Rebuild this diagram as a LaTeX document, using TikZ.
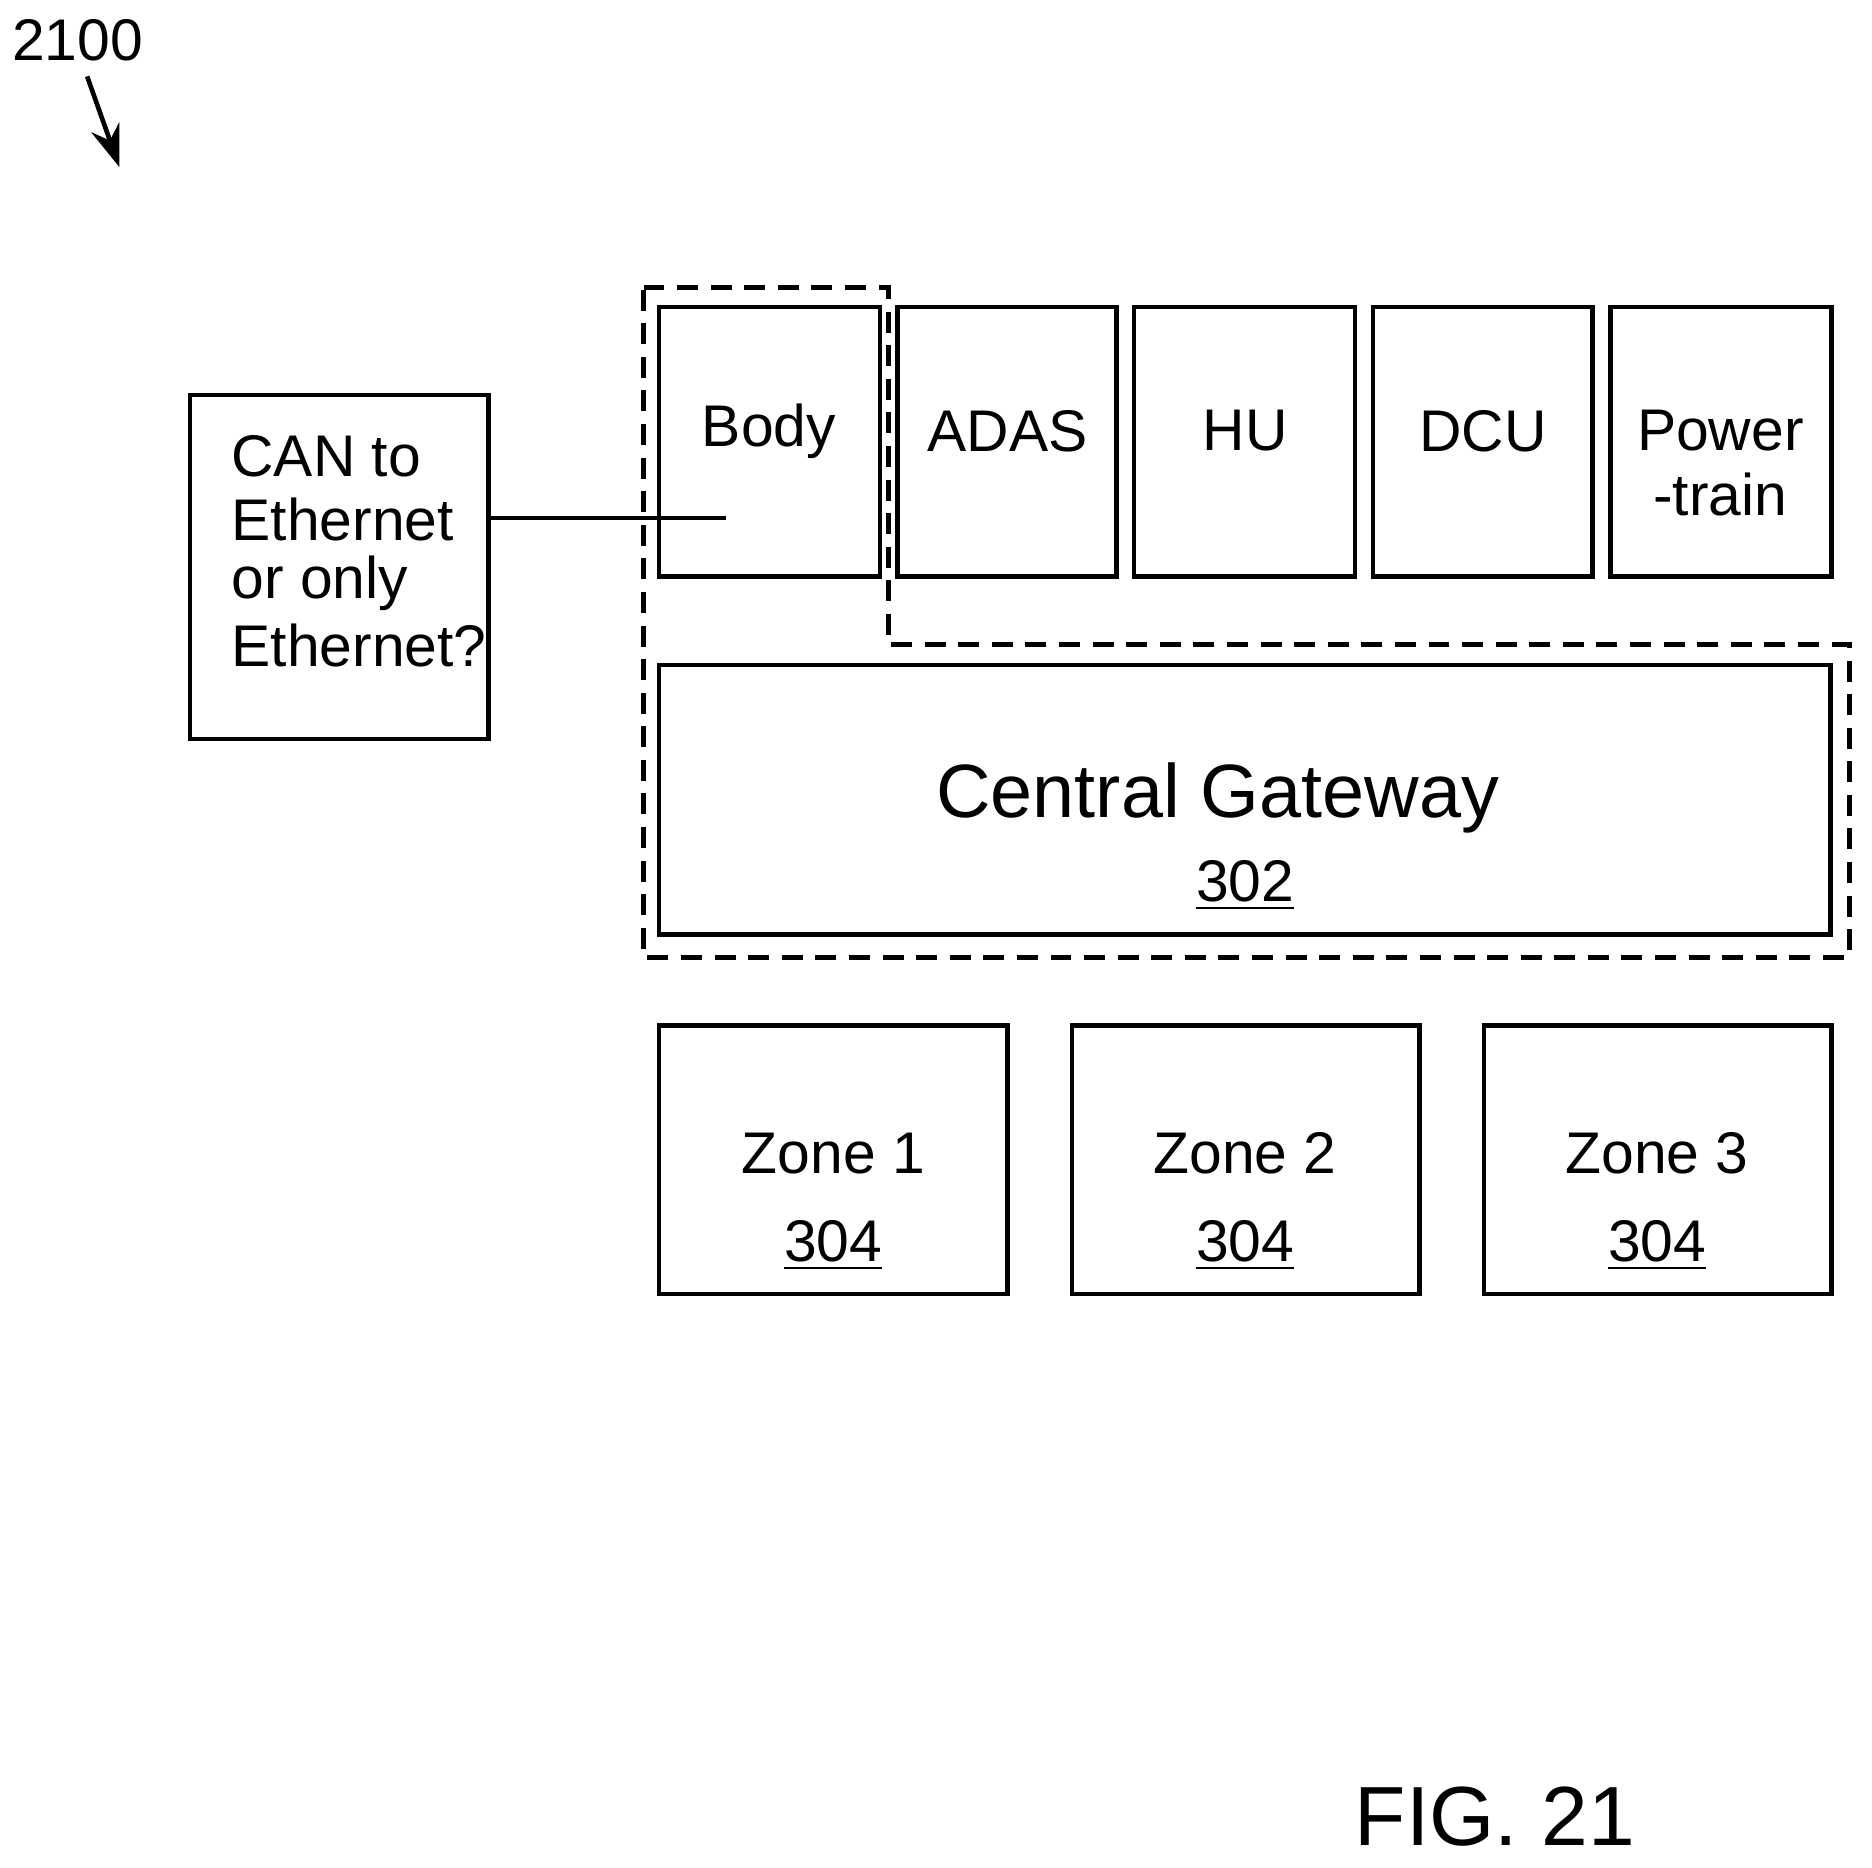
\documentclass[tikz,border=0pt]{standalone}
\usepackage{fontspec}
\setmainfont{Liberation Sans}
\usetikzlibrary{arrows.meta}
\begin{document}
\begin{tikzpicture}[x=0.01cm,y=-0.01cm,line width=1.1pt,
  box/.style={draw,line width=1.1pt},
  t/.style={font=\fontsize{14}{16}\selectfont,inner sep=0},
  big/.style={font=\fontsize{18}{20}\selectfont,inner sep=0}]
\useasboundingbox (0,0) rectangle (1568,1564);
\node[t] (num) at (65,34) {2100};
\coordinate (a1) at (73,64);\coordinate (a2) at (100,140);
\draw[-{Stealth[length=10pt,width=7pt]}] (a1) -- (a2);
% CAN box
\draw[box] (159,331) rectangle (409,619);
\node[t,anchor=west] (c1) at (192,382) {CAN to};
\node[t,anchor=west] (c2) at (192,435) {Ethernet};
\node[t,anchor=west] (c3) at (192,489) {or only};
\node[t,anchor=west] (c4) at (192,541) {Ethernet?};
\coordinate (l1) at (409,434);\coordinate (l2) at (608,434);
\draw (l1) -- (l2);
% top boxes
\draw[box] (552,257) rectangle (737,483); \node[t] (body) at (644,361) {Body};
\draw[box] (752,257) rectangle (935,483); \node[t] (adas) at (844,361) {ADAS};
\draw[box] (950,257) rectangle (1135,483); \node[t] (hu) at (1043,361) {HU};
\draw[box] (1150,257) rectangle (1334,483); \node[t] (dcu) at (1242,361) {DCU};
\draw[box] (1349,257) rectangle (1534,483); \node[t] (pw) at (1441,361) {Power};
\node[t] (pw2) at (1441,414) {-train};
% dashed
\draw[dashed,dash pattern=on 5pt off 3pt] (539,241) -- (744,241) -- (744,540) -- (1549,540) -- (1549,802) -- (539,802) -- cycle;
% gateway
\draw[box] (552,557) rectangle (1533,783);
\node[big] (cg) at (1020,668) {Central Gateway};
\node[t] (n302) at (1043,742) {\underline{302}};
% zones
\draw[box] (552,859) rectangle (844,1084);
\node[t] (z1) at (698,966) {Zone 1}; \node[t] (z1n) at (698,1043) {\underline{304}};
\draw[box] (898,859) rectangle (1189,1084);
\node[t] (z2) at (1043,966) {Zone 2}; \node[t] (z2n) at (1043,1043) {\underline{304}};
\draw[box] (1243,859) rectangle (1534,1084);
\node[t] (z3) at (1388,966) {Zone 3}; \node[t] (z3n) at (1388,1043) {\underline{304}};
\node[inner sep=0,font=\fontsize{20}{22}\selectfont] (fig) at (1252,1522) {FIG. 21};
\end{tikzpicture}
\end{document}
